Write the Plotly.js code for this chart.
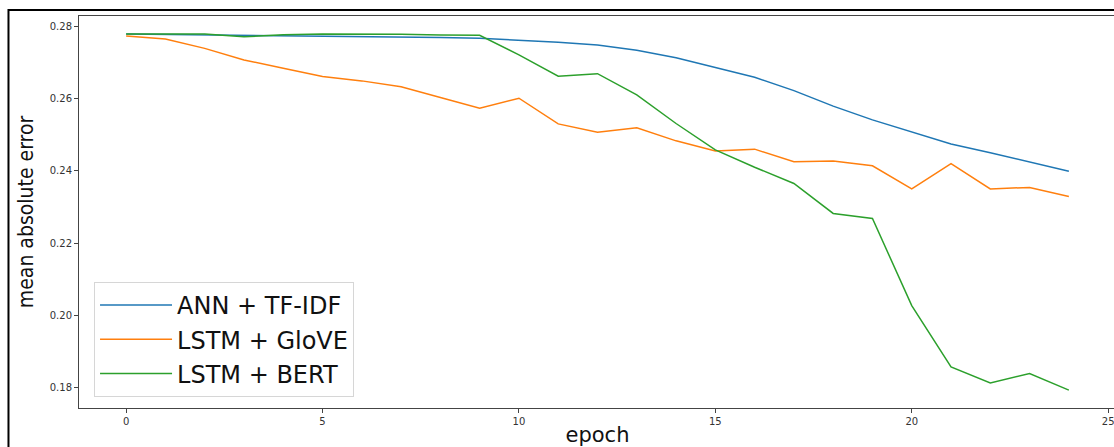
<!DOCTYPE html>
<html>
<head>
<meta charset="utf-8">
<script src="https://cdn.plot.ly/plotly-3.0.1.min.js"></script>
<style>
  html, body { margin: 0; padding: 0; background: #ffffff; overflow: hidden; }
  #chart { width: 1116px; height: 447px; }
</style>
</head>
<body>
<div id="chart"></div>
<script>
// ---- data ----
const epochs = [0,1,2,3,4,5,6,7,8,9,10,11,12,13,14,15,16,17,18,19,20,21,22,23,24];

const annTfidf = [0.2779, 0.2778, 0.2777, 0.2776, 0.2775, 0.2774, 0.2773, 0.2771, 0.2769, 0.2767,
                  0.2762, 0.2756, 0.2748, 0.2734, 0.2713, 0.2687, 0.2659, 0.2622, 0.2579, 0.2541,
                  0.2507, 0.2474, 0.2450, 0.2424, 0.2399];

const lstmGlove = [0.2773, 0.2765, 0.2739, 0.2707, 0.2684, 0.2661, 0.2649, 0.2633, 0.2603, 0.2573,
                   0.2601, 0.2530, 0.2507, 0.2519, 0.2483, 0.2455, 0.2460, 0.2425, 0.2427, 0.2414,
                   0.2350, 0.2420, 0.2350, 0.2354, 0.2329];

const lstmBert = [0.2779, 0.2779, 0.2779, 0.2771, 0.2777, 0.2779, 0.2779, 0.2778, 0.2776, 0.2775,
                  0.2721, 0.2662, 0.2669, 0.2610, 0.2531, 0.2458, 0.2410, 0.2365, 0.2282, 0.2268,
                  0.2027, 0.1857, 0.1813, 0.1839, 0.1793];

const seriesNames = ["ANN + TF-IDF", "LSTM + GloVE", "LSTM + BERT"];
const seriesColors = ["#1f77b4", "#ff7f0e", "#2ca02c"];
const xTicks = [0, 5, 10, 15, 20, 25];
const yTicks = [0.18, 0.20, 0.22, 0.24, 0.26, 0.28];

const allSeries = [annTfidf, lstmGlove, lstmBert];
const traces = allSeries.map((ys, i) => ({
  x: epochs,
  y: ys,
  type: "scatter",
  mode: "lines",
  name: seriesNames[i],
  line: { color: seriesColors[i], width: 1.5 }
}));

const axisCol = "#444444";
const tickFont = { family: "DejaVu Sans, sans-serif", size: 10, color: "#333333" };

const layout = {
  width: 1116,
  height: 447,
  margin: { l: 79, r: 0, t: 16, b: 39, pad: 0 },
  paper_bgcolor: "#ffffff",
  plot_bgcolor: "#ffffff",
  showlegend: true,
  legend: {
    x: 0.0145, y: 0.028, xanchor: "left", yanchor: "bottom",
    bgcolor: "#ffffff",
    bordercolor: "#d6d6d6",
    borderwidth: 1,
    itemwidth: 72,
    entrywidth: 300,
    entrywidthmode: "pixels",
    tracegroupgap: 0,
    font: { family: "DejaVu Sans, sans-serif", size: 24, color: "#111111" }
  },
  xaxis: {
    range: [-1.2, 25.2],
    tickvals: xTicks,
    ticktext: xTicks.map(String),
    showgrid: false, zeroline: false,
    showline: true, mirror: true, linecolor: axisCol, linewidth: 1,
    ticks: "outside", ticklen: 4, tickwidth: 1, tickcolor: axisCol,
    tickfont: tickFont,
    title: { text: "epoch", standoff: 8,
             font: { family: "DejaVu Sans, sans-serif", size: 21, color: "#111111" } }
  },
  yaxis: {
    range: [0.17434, 0.28286],
    tickvals: yTicks,
    ticktext: yTicks.map(v => v.toFixed(2)),
    showgrid: false, zeroline: false,
    showline: true, mirror: true, linecolor: axisCol, linewidth: 1,
    ticks: "outside", ticklen: 4, tickwidth: 1, tickcolor: axisCol,
    tickfont: tickFont,
    title: { text: "mean absolute error", standoff: 10,
             font: { family: "DejaVu Sans Condensed, DejaVu Sans, sans-serif", size: 21, color: "#111111" } }
  },
  shapes: [{
    type: "rect", xref: "paper", yref: "paper",
    x0: -0.068, x1: 1.05, y0: -0.3, y1: 1.0153,
    line: { color: "#000000", width: 2 },
    fillcolor: "rgba(0,0,0,0)", layer: "above"
  }]
};

Plotly.newPlot("chart", traces, layout, { staticPlot: true, displayModeBar: false });
</script>
</body>
</html>
